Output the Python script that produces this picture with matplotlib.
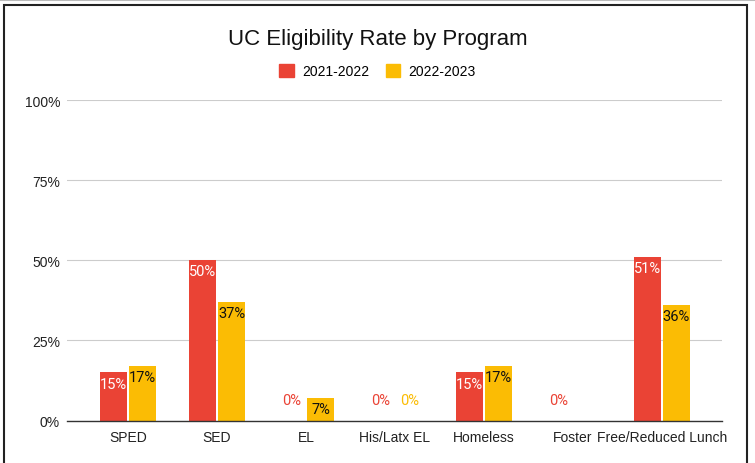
import matplotlib.pyplot as plt
from matplotlib.patches import Rectangle, Patch
import numpy as np

# UC eligibility rate by program, two school years
programs = ['SPED', 'SED', 'EL', 'His/Latx EL', 'Homeless', 'Foster', 'Free/Reduced Lunch']
rate_2021 = [15, 50, 0, 0, 15, 0, 51]
rate_2022 = [17, 37, 7, 0, 17, None, 36]
series_names = ['2021-2022', '2022-2023']

RED = '#EA4335'
YELLOW = '#FBBC04'

plt.rcParams['font.family'] = ['Liberation Sans', 'DejaVu Sans']

W, H = 755, 464
fig = plt.figure(figsize=(W / 100, H / 100), dpi=100)
ax = fig.add_axes([67 / W, (H - 421.5) / H, (722 - 67) / W, (421.5 - 101) / H])

x = np.arange(len(programs))
width = 0.30
offset = 0.163


def draw_series(xpos, values, color, text_color):
    for xi, v in zip(xpos, values):
        if v is None:
            continue
        if v > 0:
            ax.bar(xi, v / 100, width, color=color, zorder=3)
            ax.annotate(f'{v}%', (xi, v / 100), xytext=(0, -3), textcoords='offset points',
                        ha='center', va='top', fontsize=10.5, color=text_color,
                        family=['Roboto', 'DejaVu Sans'], zorder=4)
        else:
            # zero values get a label floating above the baseline in the bar colour
            ax.annotate(f'{v}%', (xi, 0), xytext=(0, 9.5), textcoords='offset points',
                        ha='center', va='bottom', fontsize=10.5, color=color,
                        family=['Roboto', 'DejaVu Sans'], zorder=4)


draw_series(x - offset, rate_2021, RED, 'white')
draw_series(x + offset, rate_2022, YELLOW, '#111111')

ax.set_xlim(-0.685, len(programs) - 1 + 0.675)
ax.set_ylim(0, 1.0)
ax.set_yticks([0, 0.25, 0.5, 0.75, 1.0])
ax.set_yticklabels(['0%', '25%', '50%', '75%', '100%'])
ax.set_xticks(x)
ax.set_xticklabels(programs)
ax.tick_params(axis='both', length=0, labelsize=10, colors='#222222')
ax.tick_params(axis='y', pad=5)
ax.tick_params(axis='x', pad=7)
ax.grid(axis='y', color='#cccccc', linewidth=0.8, zorder=0)
for side in ['top', 'right', 'left']:
    ax.spines[side].set_visible(False)
ax.spines['bottom'].set_color('#333333')
ax.spines['bottom'].set_linewidth(1.0)
ax.spines['bottom'].set_zorder(5)

fig.text(0.5, (H - 40) / H, 'UC Eligibility Rate by Program', ha='center', va='center',
         fontsize=16, color='#111111')

handles = [Patch(facecolor=RED, edgecolor=RED), Patch(facecolor=YELLOW, edgecolor=YELLOW)]
fig.legend(handles, series_names, loc='center', bbox_to_anchor=(0.5, (H - 72) / H),
           ncol=2, frameon=False, fontsize=10, handlelength=1.05, handleheight=1.05,
           handletextpad=0.6, columnspacing=1.2)

# frame around the picture, like the screenshot
fig.patches.append(Rectangle((3.5 / W, -0.05), (747 - 3.5) / W, (H - 6) / H + 0.05,
                             transform=fig.transFigure, fill=False, edgecolor='#222222',
                             linewidth=1.5))
fig.add_artist(plt.Line2D([0, 1], [1 - 0.5 / H, 1 - 0.5 / H], transform=fig.transFigure,
                          color='#bbbbbb', linewidth=1.5))

fig.savefig('out.png', dpi=100)
